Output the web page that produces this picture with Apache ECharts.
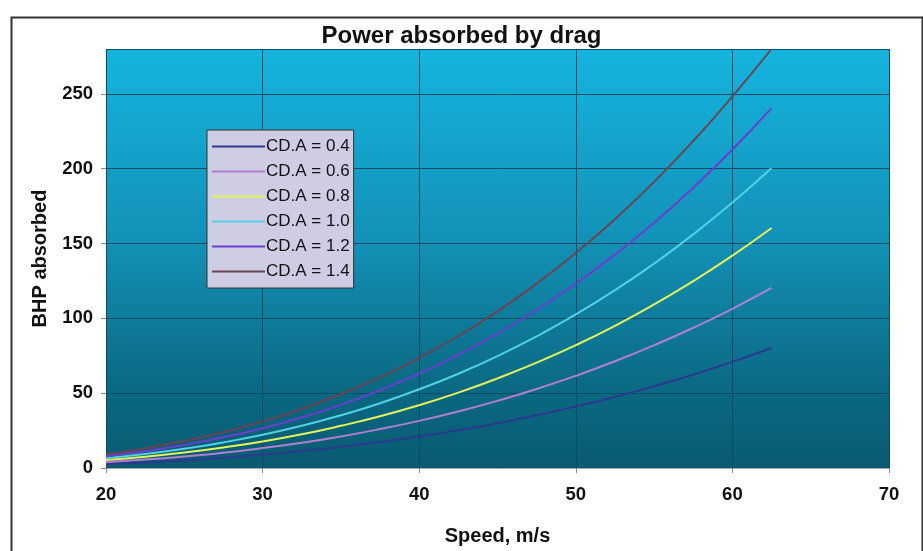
<!DOCTYPE html>
<html>
<head>
<meta charset="utf-8">
<script src="https://cdn.jsdelivr.net/npm/echarts@6/dist/echarts.min.js"></script>
<style>html,body{margin:0;padding:0;background:#fff}#c{width:923px;height:551px}</style>
</head>
<body>
<div id="c"></div>
<script>
const speeds = [20, 22.5, 25, 27.5, 30, 32.5, 35, 37.5, 40, 42.5, 45, 47.5, 50, 52.5, 55, 57.5, 60, 62.5];
const cda04 = [2.6, 3.7, 5.1, 6.8, 8.9, 11.3, 14.1, 17.3, 21.0, 25.2, 29.9, 35.2, 41.1, 47.5, 54.6, 62.4, 70.9, 80.2];
const cda06 = [3.9, 5.6, 7.7, 10.2, 13.3, 16.9, 21.1, 26.0, 31.5, 37.8, 44.9, 52.8, 61.6, 71.3, 82.0, 93.7, 106.4, 120.3];
const cda08 = [5.3, 7.5, 10.3, 13.7, 17.7, 22.5, 28.2, 34.6, 42.0, 50.4, 59.9, 70.4, 82.1, 95.0, 109.3, 124.9, 141.9, 160.4];
const cda10 = [6.6, 9.4, 12.8, 17.1, 22.2, 28.2, 35.2, 43.3, 52.6, 63.0, 74.8, 88.0, 102.6, 118.8, 136.6, 156.1, 177.4, 200.5];
const cda12 = [7.9, 11.2, 15.4, 20.5, 26.6, 33.8, 42.2, 52.0, 63.1, 75.6, 89.8, 105.6, 123.2, 142.6, 163.9, 187.3, 212.8, 240.5];
const cda14 = [9.2, 13.1, 18.0, 23.9, 31.0, 39.5, 49.3, 60.6, 73.6, 88.2, 104.7, 123.2, 143.7, 166.3, 191.2, 218.5, 248.3, 280.0];
const seriesNames = ['CD.A = 0.4', 'CD.A = 0.6', 'CD.A = 0.8', 'CD.A = 1.0', 'CD.A = 1.2', 'CD.A = 1.4'];
const seriesData = [cda04, cda06, cda08, cda10, cda12, cda14];
const colors = ['#2c3890', '#b27ed2', '#e4f25a', '#4fd2e4', '#6a3ed0', '#6a4450'];

const chart = echarts.init(document.getElementById('c'));
const bold = {fontFamily: 'Liberation Sans, Arial, sans-serif', fontWeight: 'bold', color: '#111'};

chart.setOption({
  animation: false,
  graphic: [{
    type: 'rect', left: 9, top: 15, shape: {width: 911, height: 545},
    style: {fill: 'none', stroke: '#333', lineWidth: 2}, z: -10
  }],
  title: {
    text: 'Power absorbed by drag', left: 'center', top: 19,
    textStyle: Object.assign({}, bold, {fontSize: 24})
  },
  grid: {
    left: 106, right: 34, top: 49, bottom: 74, show: true, borderWidth: 0,
    backgroundColor: new echarts.graphic.LinearGradient(0, 0, 0, 1, [
      {offset: 0, color: '#15b4de'},
      {offset: 0.45, color: '#1392b8'},
      {offset: 0.8, color: '#0b6a84'},
      {offset: 1, color: '#095a70'}
    ])
  },
  legend: {
    orient: 'vertical', left: 207, top: 130, icon: 'rect',
    backgroundColor: '#cfcde3', borderColor: '#333', borderWidth: 1,
    padding: [8, 4, 8, 5], itemGap: 8, itemWidth: 53, itemHeight: 2,
    textStyle: {fontFamily: 'Liberation Sans, Arial, sans-serif', fontSize: 17, lineHeight: 17, color: '#111', padding: [0, 0, 0, -4]},
    data: seriesNames
  },
  xAxis: {
    type: 'value', min: 20, max: 70, interval: 10,
    name: 'Speed, m/s', nameLocation: 'middle', nameGap: 58,
    nameTextStyle: Object.assign({}, bold, {fontSize: 20}),
    axisLine: {show: true, lineStyle: {color: '#a0a8b0', width: 1}},
    axisTick: {show: true, length: 5, lineStyle: {color: '#888'}},
    axisLabel: Object.assign({}, bold, {fontSize: 18.5, margin: 17}),
    splitLine: {show: true, lineStyle: {color: '#0c4c62', width: 1}}
  },
  yAxis: {
    type: 'value', min: 0, max: 280, interval: 50,
    name: 'BHP absorbed', nameLocation: 'middle', nameGap: 56,
    nameTextStyle: Object.assign({}, bold, {fontSize: 20}),
    axisLine: {show: false},
    axisTick: {show: true, length: 5, lineStyle: {color: '#888'}},
    axisLabel: Object.assign({}, bold, {fontSize: 18.5, margin: 13, showMaxLabel: false}),
    splitLine: {show: true, lineStyle: {color: '#0c4c62', width: 1}}
  },
  series: seriesNames.map((n, i) => ({
    name: n, type: 'line', smooth: true, symbol: 'none',
    data: speeds.map((s, j) => [s, seriesData[i][j]]),
    lineStyle: {color: colors[i], width: 2},
    itemStyle: {color: colors[i]}
  }))
});
</script>
</body>
</html>
